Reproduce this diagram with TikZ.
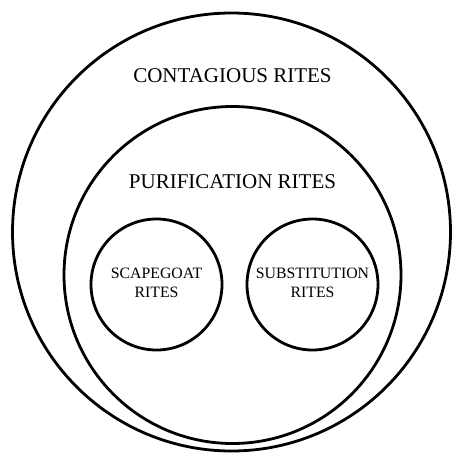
\documentclass[tikz,border=0pt]{standalone}
\usepackage{fontspec}
\setmainfont{Liberation Serif}
\usetikzlibrary{positioning}

\tikzset{
  ring/.style={line width=2.8pt, draw=black},
  bigtext/.style={font=\fontsize{21}{25}\selectfont, inner sep=0pt},
  smalltext/.style={font=\fontsize{15.8}{19}\selectfont, align=center, inner sep=0pt}
}

\begin{document}
\begin{tikzpicture}[x=1pt, y=-1pt]
			%%%%% START %%%%%
			\useasboundingbox (0, 0) rectangle (451, 455);
			
			% outer and middle rings
			\draw[ring] (231.5, 232) circle (219pt);
			\draw[ring] (232.5, 275) circle (168.5pt);
			
			% inner rings
			\node[ring, circle, minimum size=131pt, inner sep=0pt] (scapegoat) at (156.5, 284.5) {};
			\node[ring, circle, minimum size=131pt, inner sep=0pt] (substitution) at (312.5, 284.5) {};
			
			\node[bigtext] (contagious) at (232.5, 76) {CONTAGIOUS RITES};
			\node[bigtext] (purification) at (232.5, 182) {PURIFICATION RITES};
			
			\node[smalltext, below=-17pt of scapegoat.center] (scapelabel) {SCAPEGOAT\\RITES};
			\node[smalltext, below=-17pt of substitution.center] (sublabel) {SUBSTITUTION\\RITES};
			%%%%% END %%%%%
\end{tikzpicture}
\end{document}
